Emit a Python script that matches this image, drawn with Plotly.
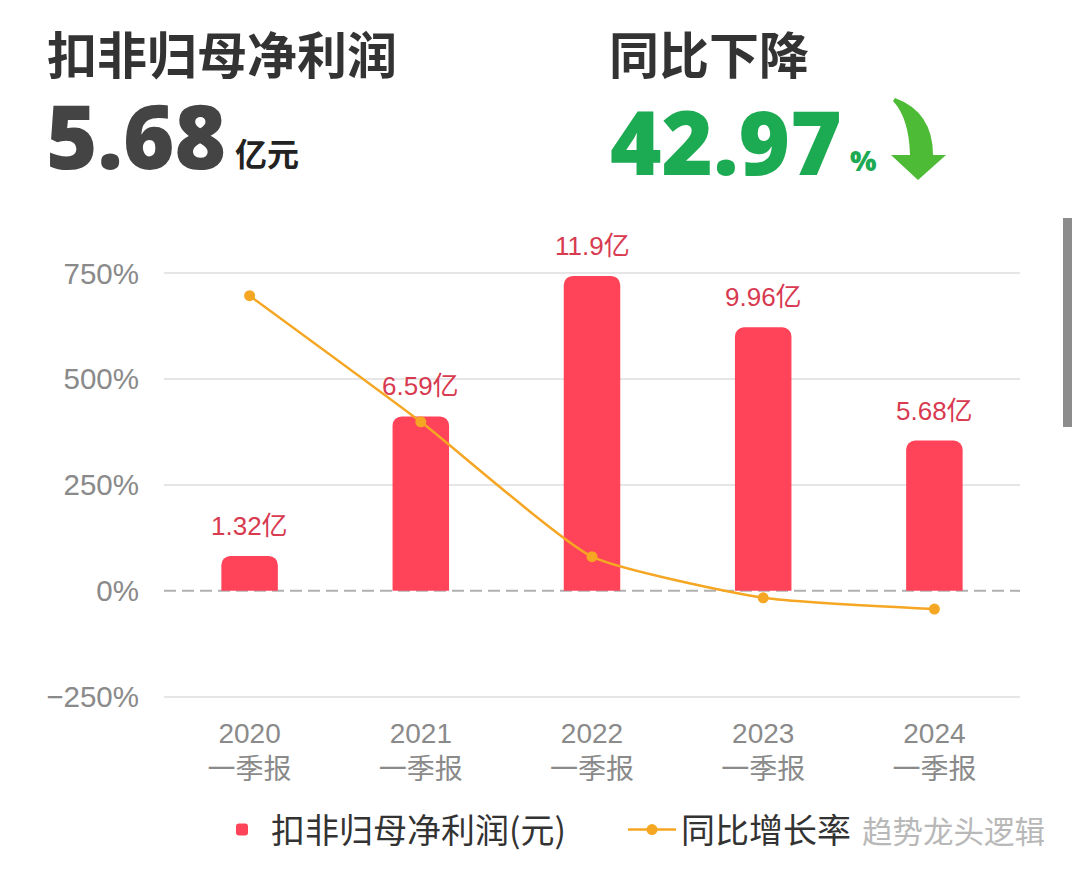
import plotly.graph_objects as go

# ---- data ----
years = ["2020", "2021", "2022", "2023", "2024"]
period = "一季报"
profit_yi = [1.32, 6.59, 11.9, 9.96, 5.68]          # 扣非归母净利润 (亿元)
yoy_pct = [697.0, 399.2, 80.6, -16.3, -42.97]       # 同比增长率 (%)
pct_ticks = [-250, 0, 250, 500, 750]
pct_tick_text = ["−250%", "0%", "250%", "500%", "750%"]

x_labels = [f"{y}<br>{period}" for y in years]

# ---- layout helpers (screen pixel -> paper); page body has an 8px margin ----
OFF = 8
W, H = 1072, 866
L, R, T, B = 156, 60, 264, 176
PW, PH = W - L - R, H - T - B


def px(x):
    return (x - OFF - L) / PW


def py(y):
    return (H - B - (y - OFF)) / PH


BAR_COLOR = "#ff445a"
LINE_COLOR = "#f5a623"
LABEL_RED = "#d83a50"
GRAY = "#8a8a8a"

# percentage axis range and matching bar axis range (0 aligned)
PCT_RANGE = [-253.0, 753.0]
SCALE = 4.0 / 250.0          # 亿 per % on the shared pixel scale
BAR_RANGE = [PCT_RANGE[0] * SCALE, PCT_RANGE[1] * SCALE]
bar_grid = [v * SCALE for v in pct_ticks if v != 0]   # 0 line is drawn dashed

fig = go.Figure()

fig.add_trace(go.Bar(
    x=x_labels, y=profit_yi, yaxis="y", name="扣非归母净利润(元)",
    marker=dict(color=BAR_COLOR, cornerradius=9, line=dict(width=0)),
    width=0.33, hoverinfo="skip",
))

fig.add_trace(go.Scatter(
    x=x_labels, y=yoy_pct, yaxis="y2", name="同比增长率",
    mode="lines+markers",
    line=dict(color=LINE_COLOR, width=2.5, shape="spline", smoothing=0.5),
    marker=dict(color=LINE_COLOR, size=11),
    hoverinfo="skip",
))

annotations = []
for xl, v in zip(x_labels, profit_yi):
    annotations.append(dict(
        x=xl, y=v, xref="x", yref="y", text=f"{v}亿", showarrow=False,
        yanchor="middle", yshift=30,
        font=dict(size=26, color=LABEL_RED, family="Liberation Sans, Noto Sans CJK SC"),
    ))

CJK = "Noto Sans CJK SC"
NUM = "Open Sans"
annotations += [
    dict(x=px(45), y=py(52), xref="paper", yref="paper", xanchor="left", yanchor="middle",
         text="扣非归母净利润", showarrow=False,
         font=dict(size=50, color="#333333", family=CJK, weight=700)),
    dict(x=px(607), y=py(52), xref="paper", yref="paper", xanchor="left", yanchor="middle",
         text="同比下降", showarrow=False,
         font=dict(size=50, color="#333333", family=CJK, weight=700)),
    dict(x=px(44), y=py(135), xref="paper", yref="paper", xanchor="left", yanchor="middle",
         text="5.68", showarrow=False,
         font=dict(size=88, color="#444444", family=NUM, weight=800)),
    dict(x=px(233), y=py(152), xref="paper", yref="paper", xanchor="left", yanchor="middle",
         text="亿元", showarrow=False,
         font=dict(size=32, color="#222222", family=CJK, weight=700)),
    dict(x=px(608), y=py(141), xref="paper", yref="paper", xanchor="left", yanchor="middle",
         text="42.97", showarrow=False,
         font=dict(size=88, color="#1caa52", family=NUM, weight=800)),
    dict(x=px(848), y=py(160), xref="paper", yref="paper", xanchor="left", yanchor="middle",
         text="%", showarrow=False,
         font=dict(size=28, color="#1caa52", family=NUM, weight=800)),
    dict(x=px(860), y=py(830), xref="paper", yref="paper", xanchor="left", yanchor="middle",
         text="趋势龙头逻辑", showarrow=False,
         font=dict(size=30.5, color="#b8b8b8", family=CJK)),
]


def P(x, y):
    return f"{px(x):.5f},{py(y):.5f}"


arrow_path = (
    f"M {P(895, 98)} Q {P(933, 112)} {P(933, 155)} L {P(946, 155)} L {P(918, 180)} "
    f"L {P(891, 155)} L {P(910, 155)} Q {P(909, 118)} {P(893, 101)} Z"
)

shapes = [
    dict(type="line", xref="paper", yref="y", x0=0, x1=1, y0=0, y1=0,
         line=dict(color="#b0b0b0", width=2, dash="12px,6px"), layer="between"),
    dict(type="path", xref="paper", yref="paper", path=arrow_path,
         fillcolor="#4dbb35", line=dict(width=0)),
    dict(type="rect", xref="paper", yref="paper", x0=px(1063), x1=px(1072),
         y0=py(427), y1=py(218), fillcolor="#8c8c8c", line=dict(width=0)),
]

fig.update_layout(
    width=W, height=H,
    margin=dict(l=L, r=R, t=T, b=B, autoexpand=False),
    paper_bgcolor="white", plot_bgcolor="white",
    showlegend=True,
    legend=dict(orientation="h", x=px(213), y=py(830), xanchor="left", yanchor="middle",
                font=dict(size=34, color="#333333", family=CJK),
                itemwidth=48, entrywidth=347, traceorder="normal"),
    xaxis=dict(type="category", range=[-0.5, 4.5], showgrid=False, zeroline=False,
               showline=False, ticks="", ticklabelstandoff=16,
               tickfont=dict(size=28, color=GRAY, family="Liberation Sans, Noto Sans CJK SC")),
    # bar axis: draws the grid, hidden labels
    yaxis=dict(range=BAR_RANGE, tickvals=bar_grid, showticklabels=False, showgrid=True,
               gridcolor="#e6e6e6", gridwidth=2, zeroline=False, showline=False, ticks=""),
    # percentage axis: labels on the left
    yaxis2=dict(range=PCT_RANGE, overlaying="y", side="left", tickvals=pct_ticks,
                ticktext=pct_tick_text, showgrid=False, zeroline=False, showline=False,
                ticks="", ticklabelstandoff=24,
                tickfont=dict(size=29.5, color=GRAY, family="Liberation Sans")),
    annotations=annotations,
    shapes=shapes,
)

fig.write_html("out.html")
